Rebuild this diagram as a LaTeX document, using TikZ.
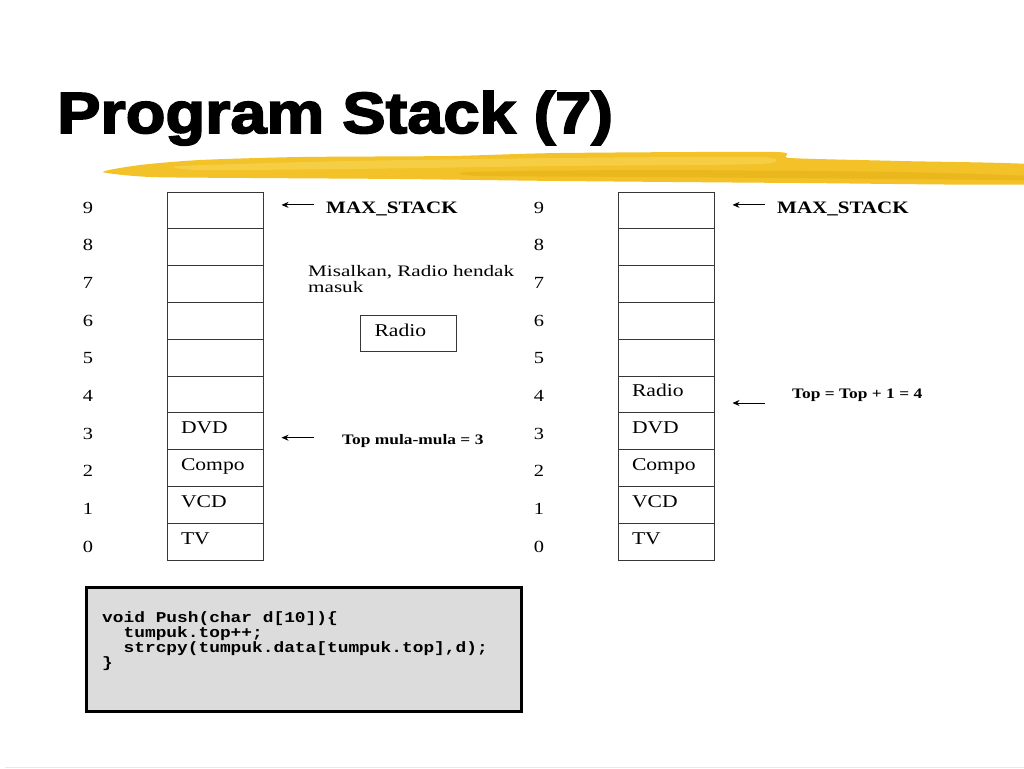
\documentclass[tikz,border=0pt]{standalone}
\usepackage{fontspec}
\setmainfont{Liberation Serif}[FakeStretch=1.2]
\newfontfamily\titlefont{Liberation Sans Bold}[FakeStretch=1.12,FakeBold=3]
\newfontfamily\notefont{Liberation Serif}[FakeStretch=1.32]
\newfontfamily\codefont{Liberation Mono}[FakeStretch=1.19]
\usetikzlibrary{arrows.meta,positioning}
\definecolor{brush}{RGB}{242,194,40}
\definecolor{brushlite}{RGB}{250,218,96}
\definecolor{brushdark}{RGB}{230,176,20}
\definecolor{codegray}{RGB}{220,220,220}
\definecolor{edge}{RGB}{55,55,55}
\definecolor{rulegray}{RGB}{232,232,232}
\begin{document}
\begin{tikzpicture}[x=1pt,y=-1pt,
  cell/.style={draw=edge,line width=1pt,minimum width=96pt,minimum height=36.8pt,
    text width=68pt,inner xsep=14pt,inner ysep=0pt,align=left,
    text height=10pt,text depth=5pt,font=\fontsize{18}{18}\selectfont},
  idx/.style={inner sep=0pt,font=\fontsize{17}{17}\selectfont},
  lbl/.style={inner sep=0pt,anchor=base west,font=\bfseries\fontsize{17.5}{17.5}\selectfont},
  smalllbl/.style={lbl,font=\bfseries\fontsize{14.5}{14.5}\selectfont},
  note/.style={inner sep=0pt,align=left,font=\notefont\fontsize{16}{16.5}\selectfont},
  ptr/.style={-{Stealth[length=7pt,width=6pt]},line width=0.9pt},
  codebox/.style={draw=black,line width=3pt,fill=codegray,outer sep=0pt,
    minimum width=435pt,minimum height=124pt},
  src/.style={inner sep=0pt,align=left,font=\codefont\bfseries\fontsize{15}{15}\selectfont}]
\path[use as bounding box,fill=white] (0,0) rectangle (1024,768);
% title and brush stroke
\fill[brush] plot[smooth cycle,tension=0.4] coordinates {(103,172) (140,165) (200,160)
  (300,157) (450,156) (560,153) (775,152) (790,158) (900,161) (1040,165)
  (1040,184) (800,183) (560,181) (400,179) (250,178) (150,177)};
\fill[brushlite,opacity=0.5] plot[smooth cycle,tension=0.4] coordinates {(180,166)
  (350,161) (560,158) (760,157) (760,164) (560,166) (350,169) (200,170)};
\fill[brushdark,opacity=0.6] plot[smooth cycle,tension=0.4] coordinates {(470,172)
  (650,170) (900,172) (1030,176) (1030,180) (900,179) (650,177) (480,176)};
\node[anchor=base west,inner sep=0pt] (title) at (57,133)
  {\titlefont\fontsize{58}{58}\selectfont Program Stack (7)};
\draw[rulegray,line width=1pt] (5,767) -- (1024,767);
% left stack
\foreach \i/\item in {0/TV,1/VCD,2/Compo,3/DVD,4/,5/,6/,7/,8/,9/}{
  \node[cell] (L\i) at (215,{560-36.8*(\i+0.5)}) {\item};
  \node[idx] (nL\i) at (88,{546.5-37.67*\i}) {\i};
}
\node[lbl] (maxL) at (326,213) {MAX\_STACK};
\node[smalllbl] (topL) at (342,444) {Top mula-mula = 3};
\draw[ptr] ([xshift=50pt,yshift=5.5pt]L9.east) -- ++(-32,0);
\draw[ptr] ([xshift=50pt,yshift=-6.5pt]L3.east) -- ++(-32,0);
\node[note,anchor=north west] (note) at (308,265) {Misalkan, Radio hendak\\masuk};
\node[cell] (radio) at (408.5,333.5) {Radio};
% right stack
\foreach \i/\item in {0/TV,1/VCD,2/Compo,3/DVD,4/Radio,5/,6/,7/,8/,9/}{
  \node[cell] (R\i) at (666,{560-36.8*(\i+0.5)}) {\item};
  \node[idx] (nR\i) at (539,{546.5-37.67*\i}) {\i};
}
\node[lbl] (maxR) at (777,213) {MAX\_STACK};
\node[smalllbl] (topR) at (792,398) {Top = Top + 1 = 4};
\draw[ptr] ([xshift=50pt,yshift=5.5pt]R9.east) -- ++(-32,0);
\draw[ptr] ([xshift=50pt,yshift=-8.6pt]R4.east) -- ++(-32,0);
% push code
\node[codebox,anchor=north west] (box) at (86,587.5) {};
\node[src,anchor=north west] (code) at (102,611) {void Push(char d[10])\{\\
\phantom{vo}tumpuk.top++;\\
\phantom{vo}strcpy(tumpuk.data[tumpuk.top],d);\\
\}};
\end{tikzpicture}
\end{document}
